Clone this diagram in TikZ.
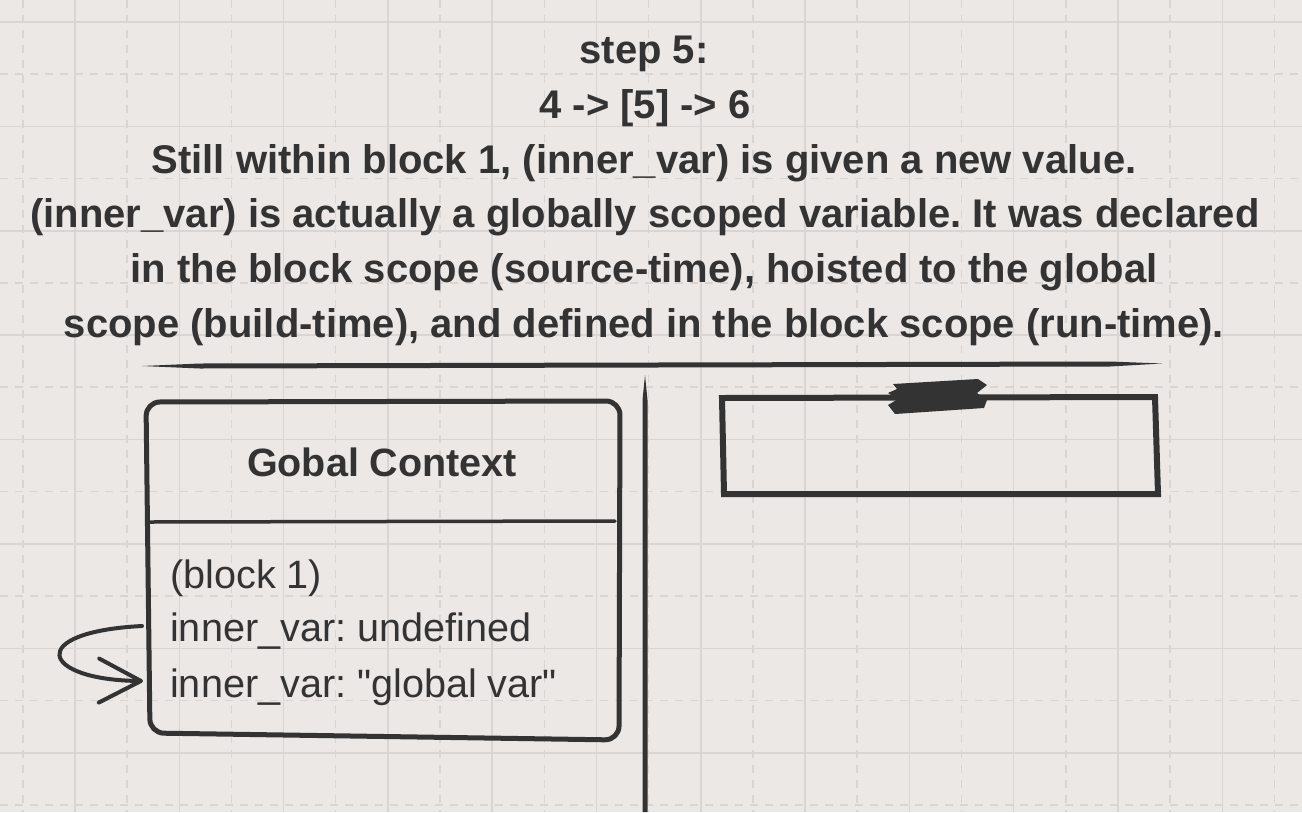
\documentclass[tikz,border=0pt]{standalone}
\usepackage{fontspec}
\setmainfont{Liberation Sans}
\newfontfamily\bodyfont{Liberation Sans}[Ligatures=TeXOff]
\frenchspacing
\usetikzlibrary{arrows.meta}
\definecolor{bg}{HTML}{EBE8E5}
\definecolor{gridc}{HTML}{D8D5D2}
\definecolor{ink}{HTML}{333333}
\tikzset{
  gridsolid/.style={draw=gridc, line width=1.5pt},
  griddash/.style={draw=gridc, line width=1.5pt, dash pattern=on 8pt off 7pt},
  titletext/.style={font=\fontsize{40}{48}\selectfont\bfseries, text=ink, anchor=base, inner sep=0pt},
  headtext/.style={font=\fontsize{39.5}{47}\selectfont\bfseries, text=ink, anchor=base, inner sep=0pt},
  bodytext/.style={font=\bodyfont\fontsize{39.6}{47}\selectfont, text=ink, anchor=base west, inner sep=0pt},
  sketch/.style={draw=ink, line width=5pt, line join=round, line cap=round},
  thinsketch/.style={draw=ink, line width=3.5pt, line cap=round},
  loop/.style={draw=ink, line width=4pt, line cap=round, -{Straight Barb[length=42pt,width=44pt,round]}},
}
\begin{document}
\begin{tikzpicture}[x=1pt,y=-1pt]
\fill[bg] (0,0) rectangle (1302,812);
\useasboundingbox (0,0) rectangle (1302,812);
% grid
\foreach \i in {0,...,12} {
  \draw[griddash] ({22.8+104.3*\i},0) -- ({22.8+104.3*\i},812);
}
\foreach \i in {0,...,7} {
  \draw[griddash] (0,{74+104.4*\i}) -- (1302,{74+104.4*\i});
}
\foreach \i in {0,...,11} {
  \draw[gridsolid] ({75+104.3*\i},0) -- ({75+104.3*\i},812);
}
\foreach \i in {0,...,7} {
  \draw[gridsolid] (0,{22+104.4*\i}) -- (1302,{22+104.4*\i});
}
% title
\node[titletext] (t1) at (644,63) {step 5:};
\node[titletext] (t2) at (645,118) {4 -> [5] -> 6};
\node[titletext] (t3) at (644,173) {Still within block 1, (inner\_var) is given a new value.};
\node[titletext] (t4) at (645,227) {(inner\_var) is actually a globally scoped variable. It was declared};
\node[titletext] (t5) at (644,282) {in the block scope (source-time), hoisted to the global};
\node[titletext] (t6) at (644,337) {scope (build-time), and defined in the block scope (run-time).};
% tapered rules
\fill[ink] (142,366) -- (200,363.5) -- (1110,361.5) -- (1162,363.5) -- (1110,366.5) -- (200,368.5) -- cycle;
\fill[ink] (645,375) -- (647.5,400) -- (647.5,812) -- (642.5,812) -- (642.5,400) -- cycle;
% global context box
\draw[sketch, rounded corners=14pt] (146,402) -- (620,401) -- (619,740) -- (150,733) -- cycle;
\draw[thinsketch] (150,522) -- (615,521);
\node[headtext] (gc) at (382,476) {Gobal Context};
\node[bodytext] (b1) at (170,588) {(block 1)};
\node[bodytext] (b2) at (170,641) {inner\_var: undefined};
\node[bodytext] (b3) at (170,697) {inner\_var: "global var"};
% loop arrow
\coordinate (a0) at (142,626);
\coordinate (a1) at (143,681);
\draw[loop] (a0) .. controls (25,632) and (40,680) .. (a1);
% right box
\draw[sketch, line width=6pt, line join=miter] (722,398) -- (1155,397) -- (1158,494) -- (724,494) -- cycle;
\fill[ink] (893,384) -- (978,379) -- (987,385) -- (977,393) -- (987,400) -- (984,408) -- (895,414) -- (888,405) -- (898,399) -- (888,393) -- (897,389) -- cycle;
\end{tikzpicture}
\end{document}
